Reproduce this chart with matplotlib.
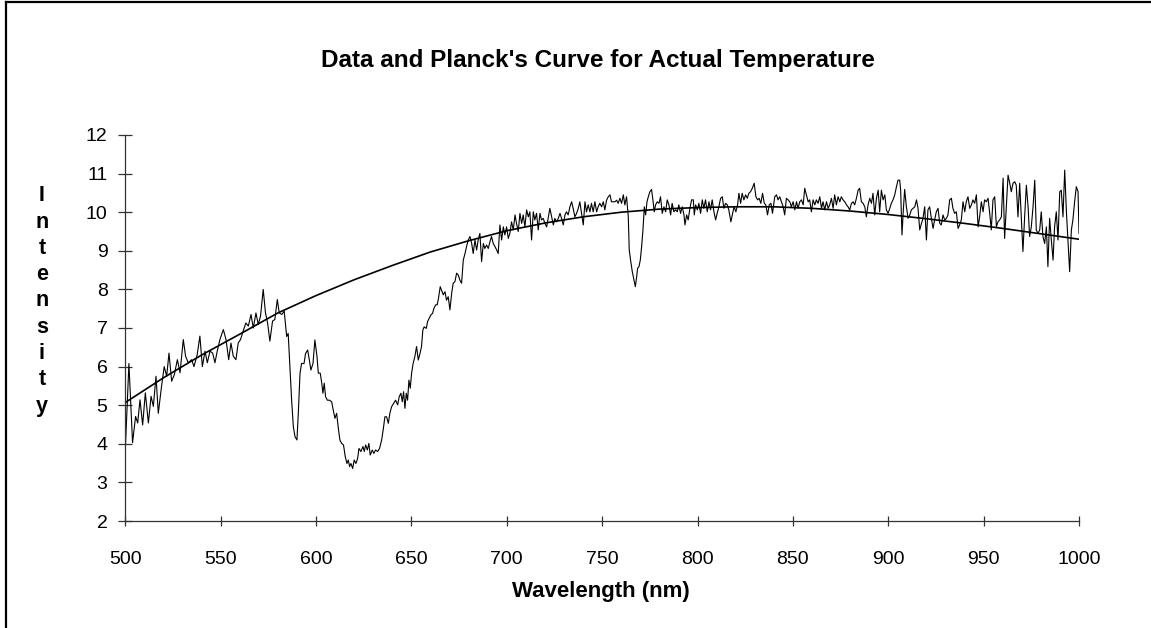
import numpy as np
import matplotlib
matplotlib.use("Agg")
import matplotlib.pyplot as plt
from matplotlib.lines import Line2D

# measured spectrum (wavelength in nm, intensity)
wavelength = [
    500.0, 501.9, 503.8, 505.4, 506.5, 507.7, 509.1, 510.5, 512.1, 513.5, 514.7, 516.1, 517.3, 519.0,
    520.4, 521.7, 522.9, 524.3, 525.7, 527.3, 528.7, 530.4, 531.6, 533.0, 534.8, 536.0, 537.7, 539.1,
    540.4, 541.8, 543.0, 544.4, 545.8, 547.0, 548.2, 549.6, 551.4, 552.8, 554.2, 555.4, 556.6, 558.0,
    559.2, 560.4, 561.8, 563.2, 564.5, 565.9, 567.1, 568.5, 569.7, 570.9, 572.3, 573.5, 574.6, 575.8,
    577.2, 578.4, 579.7, 580.7, 582.1, 583.3,
    584.6, 585.4, 586.3, 587.2, 588.1, 589.0, 590.0, 590.7, 591.6, 592.4, 593.7, 594.5, 595.6, 596.5,
    597.3, 598.4, 599.4, 600.5, 601.2, 602.2, 603.0, 603.6, 604.3, 605.0, 605.9, 607.0, 608.2, 609.0,
    609.9, 610.8, 611.6, 612.5, 613.4, 614.4, 615.3, 616.2, 616.9, 617.6, 618.3, 619.2, 620.0, 620.9,
    621.8, 622.5, 623.5, 624.6, 625.3, 626.0, 626.9, 627.7, 628.4, 629.5, 630.3, 631.2, 632.3, 633.3,
    634.4, 635.2, 636.1, 637.0, 637.9, 638.7, 639.6, 640.7, 641.7, 642.8, 643.6, 644.5, 645.2, 645.9,
    646.6, 647.3, 648.0, 648.7, 649.4, 650.1, 650.9, 651.8, 652.7, 653.6, 654.5, 655.3, 656.0, 656.7,
    657.8, 658.5, 659.3, 660.2, 661.1, 661.8, 662.7, 663.5, 664.2, 665.1, 665.8, 666.7, 667.6, 668.4,
    669.3,
    670.2, 671.1, 671.9, 672.8, 673.7, 674.6, 675.4, 676.3, 677.2, 678.1, 678.9, 679.8, 680.7, 681.6,
    682.4, 683.3, 684.2, 685.0, 685.9, 686.8, 687.7, 688.5, 689.4, 690.3, 691.2, 692.0, 692.9, 693.8,
    694.7, 695.5, 696.4, 697.3, 698.2, 699.0, 699.9, 700.8, 701.6, 702.5, 703.4, 704.3, 705.1, 706.0,
    706.9, 707.8, 708.6, 709.5, 710.4, 711.3, 712.1, 713.0, 713.9, 714.7, 715.6, 716.5, 717.4, 718.2,
    719.1, 720.0, 720.9, 721.7, 722.6, 723.5, 724.4, 725.2, 726.1, 727.0, 727.9, 728.7, 729.6, 730.5,
    731.3, 732.2, 733.1, 734.0, 734.8, 735.7, 736.6, 737.5, 738.3, 739.2, 740.1, 741.0, 741.8, 742.7,
    743.6, 744.4, 745.3, 746.2, 747.1, 747.9, 748.8, 749.7, 750.6, 751.4, 752.3, 753.2, 754.1, 754.9,
    755.8,
    756.7, 757.6, 758.4, 759.3, 760.2, 761.1, 761.9, 762.8, 763.7, 764.2, 764.9, 765.8, 766.7, 767.4,
    768.1, 768.6, 769.3, 770.0, 770.7, 771.4, 772.1, 772.8, 773.5, 774.2, 775.0, 775.9, 776.6, 777.3,
    778.0, 778.9, 779.8, 780.6, 781.5, 782.4, 783.3, 784.1, 785.0, 785.9, 786.7, 787.6, 788.5, 789.4,
    790.2, 791.1, 792.0, 792.9, 793.4, 794.3, 795.1, 796.0, 796.9, 797.8, 798.3, 799.0, 799.9, 800.7,
    801.6, 802.5, 803.3, 804.2, 805.1, 806.0, 806.8, 807.7, 808.6, 809.5, 810.3, 811.2, 812.1, 813.0,
    813.8, 814.7, 815.6, 816.4, 817.5, 818.4, 819.2, 820.1, 821.0, 821.7, 822.6, 823.4, 824.3, 825.2,
    826.1, 826.9, 827.8, 828.7, 829.7, 830.6, 831.5, 832.3, 833.2, 834.1, 835.0, 835.8, 836.7, 837.6,
    838.5, 839.3,
    840.5, 841.4, 842.2, 843.1, 844.0, 844.9, 845.7, 846.6, 847.5, 848.4, 849.2, 850.1, 851.0, 851.9,
    852.7, 853.6, 854.5, 855.4, 856.2, 857.1, 858.0, 858.8, 859.7, 860.6, 861.5, 862.3, 863.2, 864.1,
    865.0, 865.8, 866.7, 867.6, 868.5, 869.3, 870.2, 871.1, 871.9, 872.8, 873.7, 874.6, 875.4, 876.3,
    877.2, 878.1, 878.9, 879.8, 880.7, 881.6, 882.4, 883.3, 884.2, 885.0, 885.9, 886.8, 887.7, 888.5,
    889.4, 890.3, 891.2, 892.0, 892.9, 893.8, 894.7, 895.5, 896.4, 897.3, 898.2, 899.0, 899.9, 900.8,
    901.6, 902.5, 903.4, 904.3, 905.1, 906.0, 906.5, 907.2, 907.9, 908.6, 909.5, 910.4, 911.3, 912.1,
    913.0, 913.9, 914.8, 915.6, 916.5, 917.4, 918.2,
    919.1, 920.0, 920.8, 921.7, 922.6, 923.5, 924.3, 925.2, 926.1, 927.0, 927.8, 928.7, 929.6, 930.5,
    931.3, 932.2, 933.1, 933.9, 934.8, 935.7, 936.6, 937.4, 938.3, 939.2, 940.1, 940.9, 941.8, 942.7,
    943.6, 944.4, 945.3, 946.2, 947.1, 947.9, 948.8, 949.7, 950.5, 951.4, 952.3, 953.2, 954.0, 954.9,
    955.8, 956.7, 957.5, 958.4, 959.3, 960.2, 961.0, 961.9, 962.8, 963.7, 964.5, 965.4, 966.3, 967.1,
    968.0, 968.9, 969.8, 970.6, 971.5, 972.4, 973.3, 974.1, 975.0, 975.9, 976.8, 977.6, 978.5, 979.4,
    980.2, 981.1, 982.0, 982.9, 983.7, 984.6, 985.5, 986.4, 987.2, 988.1, 989.0, 989.9, 990.7, 991.6,
    992.5, 993.4, 994.2, 995.1, 996.0, 996.8, 997.7, 998.6, 999.5, 1000.0,
]
intensity = [
    3.84, 6.08, 4.03, 4.71, 4.54, 5.14, 4.49, 5.32, 4.54, 5.23, 4.97, 5.75, 4.79, 5.49,
    6.00, 5.75, 6.35, 5.62, 5.79, 6.18, 5.84, 6.70, 6.27, 6.10, 6.18, 6.00, 6.31, 6.79,
    6.00, 6.40, 6.10, 6.40, 6.35, 6.10, 6.40, 6.70, 6.96, 6.70, 6.18, 6.61, 6.27, 6.18,
    6.61, 6.70, 6.92, 7.13, 7.05, 7.35, 7.00, 7.39, 7.09, 7.31, 8.00, 7.39, 7.13, 6.66,
    7.18, 7.22, 7.74, 7.39, 7.35, 7.44,
    6.78, 6.86, 6.00, 5.13, 4.44, 4.18, 4.10, 4.79, 5.83, 6.08, 6.08, 6.34, 6.43, 6.17,
    5.91, 6.08, 6.69, 6.26, 5.83, 5.83, 5.57, 5.31, 5.57, 5.22, 5.13, 5.13, 5.09, 4.88,
    4.66, 4.79, 4.44, 4.10, 4.01, 3.97, 3.67, 3.49, 3.58, 3.41, 3.49, 3.36, 3.58, 3.49,
    3.62, 3.88, 3.80, 3.93, 3.80, 3.97, 3.84, 4.01, 3.71, 3.84, 3.75, 3.84, 3.80, 3.88,
    4.10, 4.36, 4.70, 4.70, 4.53, 4.79, 4.96, 5.05, 5.13, 5.01, 5.22, 5.31, 5.09, 5.35,
    4.92, 5.31, 5.13, 5.65, 5.44, 5.83, 6.08, 6.26, 6.52, 6.17, 6.34, 6.52, 6.95, 7.03,
    6.99, 7.17, 7.25, 7.34, 7.38, 7.51, 7.60, 7.60, 7.77, 8.07, 7.98, 7.86, 7.94, 7.72,
    7.81,
    7.47, 7.90, 8.16, 8.20, 8.42, 8.37, 8.24, 8.16, 8.76, 8.93, 9.11, 9.28, 9.37, 9.19,
    8.93, 9.28, 9.02, 9.28, 9.45, 8.72, 9.19, 9.06, 9.15, 9.06, 9.24, 9.37, 9.19, 9.11,
    9.02, 8.93, 9.67, 9.28, 9.62, 9.41, 9.62, 9.32, 9.45, 9.75, 9.54, 9.93, 9.71, 9.50,
    9.97, 9.71, 9.93, 9.62, 10.06, 9.88, 10.01, 9.28, 10.01, 9.80, 9.97, 9.54, 9.97, 9.80,
    9.84, 9.71, 9.62, 9.84, 10.10, 9.88, 9.67, 9.84, 9.75, 9.84, 9.97, 9.84, 9.67, 9.93,
    10.01, 9.93, 10.14, 10.27, 10.10, 9.88, 9.97, 10.10, 10.27, 9.97, 9.67, 10.27, 10.01, 10.19,
    10.01, 10.23, 10.01, 10.27, 10.01, 10.14, 10.23, 10.14, 10.27, 10.06, 10.31, 10.40, 10.45, 10.27,
    10.27,
    10.27, 10.31, 10.23, 10.36, 10.23, 10.45, 10.19, 10.40, 9.88, 9.02, 8.76, 8.46, 8.24, 8.07,
    8.33, 8.55, 8.59, 8.76, 9.11, 9.54, 10.14, 9.93, 10.27, 10.40, 10.53, 10.59, 10.32, 10.01,
    10.19, 10.27, 10.23, 10.40, 9.97, 10.14, 10.01, 10.32, 10.19, 9.93, 10.23, 10.01, 10.06, 10.01,
    10.19, 9.97, 10.14, 9.93, 9.67, 9.93, 9.80, 10.10, 10.32, 10.32, 9.93, 10.19, 10.06, 10.23,
    9.97, 10.32, 10.10, 10.32, 10.01, 10.27, 10.06, 10.32, 10.01, 9.80, 9.97, 10.14, 10.36, 10.40,
    10.10, 10.23, 10.19, 10.06, 9.75, 9.97, 10.14, 10.01, 10.19, 10.49, 10.23, 10.49, 10.32, 10.45,
    10.36, 10.49, 10.53, 10.62, 10.75, 10.40, 10.32, 10.36, 10.23, 10.49, 10.23, 10.19, 9.93, 10.19,
    10.23, 9.97,
    10.40, 10.45, 10.32, 10.40, 10.27, 10.14, 9.93, 10.36, 10.32, 10.27, 10.14, 10.27, 10.06, 10.27,
    10.10, 10.27, 10.32, 10.19, 10.62, 10.45, 10.27, 10.32, 10.01, 10.32, 10.19, 10.32, 10.23, 10.40,
    10.10, 10.27, 10.06, 10.27, 10.10, 10.19, 10.36, 10.10, 10.45, 10.19, 10.40, 10.27, 10.40, 10.32,
    10.27, 10.19, 10.14, 10.06, 10.23, 10.27, 10.19, 10.36, 10.57, 10.62, 10.27, 10.23, 10.14, 9.88,
    10.19, 10.36, 10.23, 10.49, 9.93, 10.36, 10.57, 10.01, 10.57, 10.32, 10.45, 10.06, 9.97, 10.10,
    10.23, 10.32, 10.45, 10.66, 10.83, 10.83, 10.57, 9.41, 10.06, 10.59, 10.14, 9.84, 9.93, 10.06,
    10.10, 10.14, 10.32, 10.10, 9.54, 9.71, 9.84,
    10.14, 9.28, 10.06, 10.14, 9.84, 9.58, 9.80, 10.01, 10.10, 9.71, 9.67, 9.93, 9.80, 9.84,
    9.93, 10.32, 10.36, 10.10, 9.97, 10.01, 9.58, 9.67, 9.80, 10.27, 10.01, 10.27, 10.40, 10.10,
    10.19, 10.32, 10.23, 10.45, 9.62, 9.88, 10.27, 10.01, 10.32, 10.27, 10.36, 9.97, 9.54, 10.32,
    10.40, 9.62, 9.75, 9.80, 9.88, 10.88, 9.32, 10.14, 10.96, 10.75, 10.53, 10.75, 10.79, 10.70,
    9.88, 10.75, 9.80, 8.98, 9.88, 10.70, 10.14, 9.37, 9.62, 10.14, 10.83, 9.54, 9.45, 9.54,
    10.01, 9.37, 9.19, 9.62, 8.59, 9.84, 9.28, 8.76, 9.62, 10.01, 9.28, 10.53, 10.57, 9.88,
    11.09, 10.01, 9.28, 8.46, 9.54, 9.80, 10.27, 10.66, 10.53, 9.45,
]

# Planck's curve for the actual temperature (read every 20 nm)
planck_wl = [500, 520, 540, 560, 580, 600, 620, 640, 660, 680, 700, 720, 740,
             760, 780, 800, 820, 840, 860, 880, 900, 920, 940, 960, 980, 1000]
planck_val = [5.07, 5.71, 6.30, 6.84, 7.39, 7.84, 8.25, 8.62, 8.97, 9.26, 9.52, 9.72, 9.88,
              10.00, 10.08, 10.12, 10.14, 10.14, 10.10, 10.03, 9.94, 9.83, 9.71, 9.58, 9.44, 9.30]

x_ticks = [500, 550, 600, 650, 700, 750, 800, 850, 900, 950, 1000]
y_ticks = [2, 3, 4, 5, 6, 7, 8, 9, 10, 11, 12]

title = "Data and Planck's Curve for Actual Temperature"
x_label = "Wavelength (nm)"
y_label = "Intensity"

plt.rcParams["font.family"] = ["Liberation Sans", "DejaVu Sans"]

W, H = 1151, 628
fig = plt.figure(figsize=(W / 100, H / 100), dpi=100)
ax = fig.add_axes([125.3 / W, 1 - 521 / H, (1079 - 125.3) / W, (521 - 135) / H])

ax.plot(wavelength, intensity, color="black", lw=0.8)
ax.plot(planck_wl, planck_val, color="black", lw=1.2)

ax.set_xlim(500, 1000)
ax.set_ylim(2, 12)
ax.set_xticks(x_ticks)
ax.set_yticks(y_ticks)
for s in ["top", "right"]:
    ax.spines[s].set_visible(False)
for s in ["left", "bottom"]:
    ax.spines[s].set_color("#333333")
    ax.spines[s].set_linewidth(0.9)
ax.tick_params(axis="x", direction="inout", length=7.5, width=0.9, color="#333333",
               labelsize=14, pad=18)
ax.tick_params(axis="y", direction="inout", length=9.5, width=0.9, color="#333333",
               labelsize=14, pad=8)

fig.text(598 / W, 1 - 61 / H, title, ha="center", va="center", fontsize=17.5, fontweight="bold")
fig.text(601 / W, 1 - 591 / H, x_label, ha="center", va="center", fontsize=16, fontweight="bold")
fig.text(42 / W, 1 - 301 / H, "\n".join(y_label), ha="center", va="center", fontsize=15.5,
         fontweight="bold", linespacing=1.33)

# chart frame (top and left edges visible in the crop)
fig.add_artist(Line2D([6 / W, 6 / W], [0, 1 - 1.5 / H], transform=fig.transFigure,
                      color="black", lw=1.6))
fig.add_artist(Line2D([6 / W, 1], [1 - 1.5 / H, 1 - 1.5 / H], transform=fig.transFigure,
                      color="black", lw=1.6))

fig.savefig("out.png", dpi=100)
